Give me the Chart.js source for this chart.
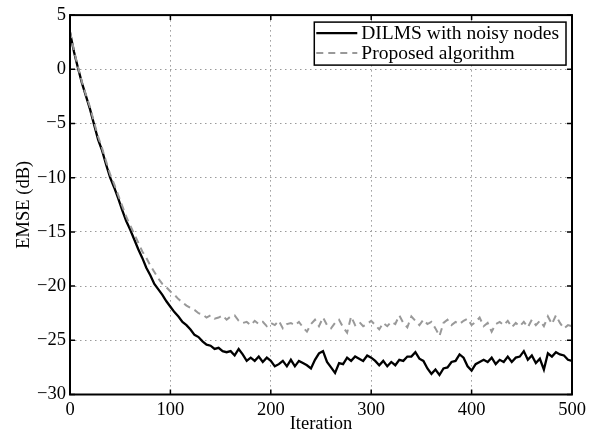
<!DOCTYPE html>
<html>
<head>
<meta charset="utf-8">
<script src="https://cdn.jsdelivr.net/npm/chart.js@4.4.1/dist/chart.umd.min.js"></script>
<style>
  html, body { margin: 0; padding: 0; background: #fff; }
  #wrap { width: 591px; height: 435px; }
</style>
</head>
<body>
<div id="wrap"><canvas id="emseChart" width="591" height="435"></canvas></div>
<script>
// iteration index, one sample every 4 iterations
const iterations = Array.from({ length: 126 }, (_, i) => i * 4);

// EMSE (dB)
const dilmsNoisy = [
  3.4, 1.6, 0.1, -1.3, -2.5, -3.7, -5.1, -6.5, -7.5, -8.8,
  -10.0, -10.9, -11.9, -13.0, -14.0, -14.8, -15.7, -16.6, -17.4, -18.3,
  -19.0, -19.8, -20.3, -20.8, -21.4, -21.9, -22.4, -22.8, -23.3, -23.6,
  -24.0, -24.5, -24.7, -25.1, -25.4, -25.5, -25.8, -25.7, -26.0, -26.1,
  -26.0, -26.4, -25.8, -26.3, -26.9, -26.6, -26.9, -26.5, -27.0, -26.6,
  -26.9, -27.4, -27.2, -26.9, -27.4, -26.8, -27.4, -26.9, -27.1, -27.3,
  -27.6, -26.8, -26.2, -26.0, -27.0, -27.5, -28.0, -27.1, -27.2, -26.6,
  -26.9, -26.5, -26.7, -26.9, -26.4, -26.6, -26.9, -27.3, -26.9, -27.4,
  -27.0, -27.3, -26.8, -26.9, -26.5, -26.5, -26.1, -26.7, -26.9, -27.6,
  -28.1, -27.7, -28.2, -27.6, -27.5, -27.0, -26.9, -26.3, -26.6, -27.4,
  -27.8, -27.2, -27.0, -26.8, -27.0, -26.6, -27.2, -26.8, -27.0, -26.5,
  -27.0, -26.6, -26.5, -26.0, -26.8, -26.4, -27.1, -26.7, -27.7, -26.2,
  -26.5, -26.1, -26.3, -26.4, -26.8, -26.9
];

const proposed = [
  3.5, 1.7, 0.2, -1.2, -2.4, -3.5, -4.9, -6.2, -7.3, -8.5,
  -9.7, -10.6, -11.6, -12.6, -13.6, -14.4, -15.2, -16.0, -16.8, -17.4,
  -18.1, -18.7, -19.3, -19.8, -20.1, -20.5, -20.8, -21.2, -21.5, -21.8,
  -22.0, -22.2, -22.5, -22.6, -22.9, -22.7, -23.0, -22.9, -22.7, -23.1,
  -22.8, -22.7, -23.2, -23.4, -23.3, -23.6, -23.2, -23.5, -23.3, -23.7,
  -23.4, -23.6, -23.2, -23.9, -23.5, -23.4, -23.6, -23.3, -23.8, -24.2,
  -23.5, -23.1, -23.7, -22.9, -23.6, -23.9, -23.4, -23.1, -23.8, -24.3,
  -22.8, -23.6, -23.3, -23.7, -23.5, -23.2, -23.6, -24.0, -23.4, -23.7,
  -23.3, -23.5, -22.7, -23.4, -23.8, -22.8, -23.2, -23.6, -23.1, -23.5,
  -23.3, -23.9, -24.6, -23.4, -23.1, -23.6, -23.3, -23.5, -23.2, -23.0,
  -23.6, -23.3, -22.9, -23.7, -23.4, -24.2, -23.5, -23.3, -23.6, -23.2,
  -23.8, -23.4, -23.7, -23.3, -23.8, -23.1, -23.6, -23.2, -23.7, -22.8,
  -23.5, -22.7, -23.4, -23.9, -23.6, -23.7
];

const seriesNames = ['DILMS with noisy nodes', 'Proposed algorithm'];
const xTicks = [0, 100, 200, 300, 400, 500];
const yTicks = [5, 0, -5, -10, -15, -20, -25, -30];

const FONT = "'Liberation Serif', 'Times New Roman', serif";

function toPoints(values) {
  return values.map((v, i) => ({ x: iterations[i], y: v }));
}

// box, inward tick marks and the legend, matlab style
const framePlugin = {
  id: 'frame',
  afterDraw(chart) {
    const { ctx, chartArea: a, scales } = chart;
    ctx.save();
    ctx.strokeStyle = '#000';
    ctx.lineWidth = 1.5;
    ctx.beginPath();
    xTicks.forEach(t => {
      const px = scales.x.getPixelForValue(t);
      ctx.moveTo(px, a.bottom); ctx.lineTo(px, a.bottom - 5);
      ctx.moveTo(px, a.top); ctx.lineTo(px, a.top + 5);
    });
    yTicks.forEach(t => {
      const py = scales.y.getPixelForValue(t);
      ctx.moveTo(a.left, py); ctx.lineTo(a.left + 5, py);
      ctx.moveTo(a.right, py); ctx.lineTo(a.right - 5, py);
    });
    ctx.stroke();
    ctx.lineWidth = 2;
    ctx.strokeRect(a.left, a.top, a.right - a.left, a.bottom - a.top);

    // legend
    ctx.font = '19.5px ' + FONT;
    const textW = Math.max(...seriesNames.map(s => ctx.measureText(s).width));
    const boxW = textW + 54;
    const boxR = a.right - 6;
    const boxL = boxR - boxW;
    const boxT = a.top + 7;
    const boxH = 43;
    ctx.fillStyle = '#fff';
    ctx.fillRect(boxL, boxT, boxW, boxH);
    ctx.lineWidth = 1.5;
    ctx.strokeStyle = '#000';
    ctx.strokeRect(boxL, boxT, boxW, boxH);
    chart.data.datasets.forEach((ds, i) => {
      const y = boxT + 11 + i * 20;
      ctx.save();
      ctx.strokeStyle = ds.borderColor;
      ctx.lineWidth = ds.borderWidth;
      ctx.setLineDash(ds.borderDash || []);
      ctx.beginPath();
      ctx.moveTo(boxL + 2, y);
      ctx.lineTo(boxL + 43, y);
      ctx.stroke();
      ctx.restore();
      ctx.fillStyle = '#000';
      ctx.textBaseline = 'middle';
      ctx.fillText(seriesNames[i], boxL + 47, y + 1);
    });
    ctx.restore();
  }
};

const ctx = document.getElementById('emseChart').getContext('2d');
new Chart(ctx, {
  type: 'line',
  data: {
    datasets: [{
      label: seriesNames[0],
      data: toPoints(dilmsNoisy),
      borderColor: '#000',
      borderWidth: 2.3,
      pointRadius: 0,
      tension: 0,
      order: 2
    }, {
      label: seriesNames[1],
      data: toPoints(proposed),
      borderColor: '#999',
      borderWidth: 2,
      borderDash: [7, 5],
      pointRadius: 0,
      tension: 0,
      order: 1
    }]
  },
  options: {
    responsive: false,
    animation: false,
    layout: { padding: { top: 15, right: 19, bottom: 0, left: 0 } },
    plugins: {
      legend: { display: false },
      tooltip: { enabled: false }
    },
    scales: {
      x: {
        type: 'linear',
        min: 0,
        max: 500,
        afterBuildTicks: s => { s.ticks = xTicks.map(v => ({ value: v })); },
        afterFit: s => { s.height = 40.5; },
        grid: { color: '#9a9a9a', lineWidth: 1, drawTicks: false },
        border: { display: false, dash: [1.5, 3.5] },
        ticks: {
          padding: 5,
          color: '#000',
          font: { family: FONT, size: 18.5 },
          maxRotation: 0
        },
        title: {
          display: true,
          text: 'Iteration',
          color: '#000',
          font: { family: FONT, size: 18.5 },
          padding: { top: 0, bottom: 0 }
        }
      },
      y: {
        min: -30,
        max: 5,
        afterBuildTicks: s => { s.ticks = yTicks.map(v => ({ value: v })); },
        afterFit: s => { s.width = 70; },
        grid: { color: '#9a9a9a', lineWidth: 1, drawTicks: false },
        border: { display: false, dash: [1.5, 3.5] },
        ticks: {
          padding: 4,
          color: '#000',
          font: { family: FONT, size: 18.5 },
          callback: v => (v < 0 ? '\u2212' + Math.abs(v) : String(v))
        },
        title: {
          display: true,
          text: 'EMSE (dB)',
          color: '#000',
          font: { family: FONT, size: 18.5 },
          padding: { top: 13, bottom: 0 }
        }
      }
    }
  },
  plugins: [framePlugin]
});
</script>
</body>
</html>
